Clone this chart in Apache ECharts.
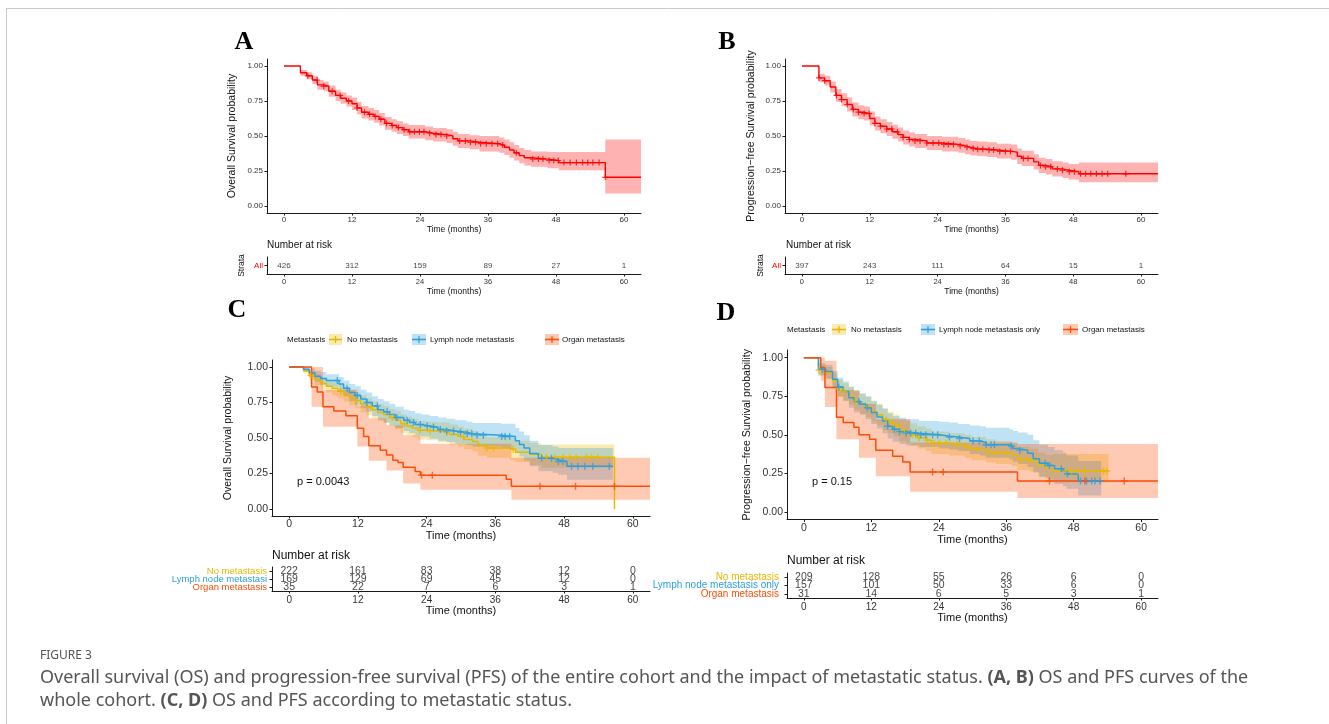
<!DOCTYPE html>
<html>
<head>
<meta charset="utf-8">
<title>Figure 3 – Kaplan–Meier curves</title>
<script src="https://cdn.jsdelivr.net/npm/echarts@6/dist/echarts.min.js"></script>
<style>
  html, body { margin: 0; padding: 0; background: #fff; }
  #chart { width: 1329px; height: 724px; }
</style>
</head>
<body>
<div id="chart"></div>
<script>
// ---------- shared ticks ----------
const X_TICKS = [0, 12, 24, 36, 48, 60];
const Y_TICKS = [0, 0.25, 0.5, 0.75, 1];
const RISK_TIMES = [0, 12, 24, 36, 48, 60];

// ---------- Panel A: overall survival, whole cohort ----------
const osAllTime = [0, 2.9, 4.0, 5.0, 5.9, 7.0, 7.9, 9.1, 10.0, 11.0, 12.0, 12.9, 13.7, 14.9, 15.9, 16.8, 17.8, 19.0, 19.9, 21.0, 22.0, 24.9, 26.3, 28.7, 29.8, 30.7, 32.8, 34.5, 38.0, 38.9, 39.8, 40.6, 41.5, 42.4, 43.6, 46.5, 48.5, 56.7, 63.0];
const osAllSurv = [1, 0.952, 0.93, 0.90, 0.865, 0.855, 0.82, 0.79, 0.77, 0.75, 0.73, 0.70, 0.67, 0.655, 0.64, 0.62, 0.59, 0.575, 0.56, 0.545, 0.53, 0.52, 0.51, 0.50, 0.48, 0.465, 0.455, 0.445, 0.435, 0.42, 0.40, 0.38, 0.36, 0.345, 0.335, 0.325, 0.31, 0.205, 0.205];
const osAllCensor = [4.2, 5.85, 7.0, 8.5, 9.9, 11.4, 12.9, 14.2, 15.1, 16.1, 17.1, 18.1, 19.1, 20.2, 21.2, 22.2, 23.0, 23.9, 24.7, 25.7, 26.8, 27.7, 28.7, 31.0, 32.0, 32.9, 33.8, 34.7, 35.7, 36.7, 37.7, 38.6, 41.0, 43.9, 44.9, 45.7, 46.8, 47.6, 48.4, 49.4, 50.5, 51.6, 52.7, 53.6, 54.5, 55.6, 56.7];
// 95% confidence limits, one pair per step of osAllTime
const osAllBandHi = [1, 0.972, 0.955, 0.93, 0.90, 0.89, 0.86, 0.83, 0.81, 0.79, 0.775, 0.745, 0.715, 0.70, 0.685, 0.665, 0.635, 0.62, 0.605, 0.59, 0.578, 0.568, 0.558, 0.548, 0.53, 0.515, 0.505, 0.50, 0.49, 0.475, 0.455, 0.435, 0.415, 0.40, 0.39, 0.385, 0.385, 0.475, 0.475];
const osAllBandLo = [1, 0.93, 0.905, 0.87, 0.83, 0.82, 0.78, 0.75, 0.73, 0.71, 0.685, 0.655, 0.625, 0.61, 0.595, 0.575, 0.545, 0.53, 0.515, 0.50, 0.482, 0.47, 0.46, 0.45, 0.43, 0.415, 0.405, 0.39, 0.38, 0.365, 0.345, 0.325, 0.305, 0.29, 0.28, 0.27, 0.255, 0.09, 0.09];
const osAllRisk = [426, 312, 159, 89, 27, 1];

// ---------- Panel B: progression-free survival, whole cohort ----------
const pfsAllTime = [0, 3.0, 4.0, 5.0, 6.0, 7.0, 8.0, 8.9, 10, 11, 12, 12.9, 13.9, 15, 16, 17, 17.9, 19, 20, 22.1, 24.8, 27.7, 28.9, 29.8, 31.1, 32.8, 34.5, 37, 38.1, 38.9, 41, 41.9, 43.1, 44.3, 46.1, 47.2, 49, 63.0];
const pfsAllSurv = [1, 0.915, 0.895, 0.85, 0.79, 0.76, 0.725, 0.69, 0.67, 0.66, 0.625, 0.59, 0.57, 0.55, 0.53, 0.51, 0.49, 0.475, 0.465, 0.45, 0.44, 0.43, 0.42, 0.41, 0.405, 0.40, 0.39, 0.385, 0.355, 0.34, 0.315, 0.29, 0.28, 0.265, 0.255, 0.245, 0.23, 0.23];
const pfsAllCensor = [3.0, 4.0, 6.1, 7.0, 8.0, 9.1, 10.0, 11.0, 11.9, 12.9, 13.9, 15.0, 15.9, 16.9, 17.9, 19.0, 20.0, 20.9, 22.1, 23.2, 24.2, 25.1, 25.9, 26.8, 28.0, 29.2, 30.3, 31.1, 32.0, 33.1, 33.9, 35.0, 36.0, 36.9, 39.2, 40.0, 42.2, 43.1, 44.0, 45.2, 46.1, 47.3, 48.2, 49.3, 50.2, 51.1, 52.1, 53.1, 54.1, 57.3];
const pfsAllBandHi = [1, 0.945, 0.93, 0.89, 0.835, 0.805, 0.775, 0.74, 0.72, 0.71, 0.675, 0.64, 0.62, 0.60, 0.58, 0.56, 0.54, 0.525, 0.515, 0.50, 0.495, 0.485, 0.475, 0.465, 0.46, 0.455, 0.445, 0.44, 0.41, 0.395, 0.37, 0.345, 0.335, 0.32, 0.31, 0.30, 0.31, 0.31];
const pfsAllBandLo = [1, 0.885, 0.86, 0.81, 0.745, 0.715, 0.675, 0.64, 0.62, 0.61, 0.575, 0.54, 0.52, 0.50, 0.48, 0.46, 0.44, 0.425, 0.415, 0.40, 0.39, 0.38, 0.37, 0.36, 0.355, 0.35, 0.34, 0.33, 0.30, 0.285, 0.26, 0.235, 0.225, 0.21, 0.20, 0.19, 0.17, 0.17];
const pfsAllRisk = [397, 243, 111, 64, 15, 1];

// ---------- Panel C: overall survival by metastatic status ----------
const osNoMetTime = [0, 2.5, 3.5, 4.5, 5.5, 6.5, 7.5, 8.5, 9.5, 10.5, 11.5, 12.5, 13.5, 14.5, 15.5, 16.5, 17.5, 18.5, 19.5, 20.5, 21.5, 22.5, 24, 26, 28, 29.5, 30.5, 32, 33, 34.5, 38.5, 39.5, 42, 44, 56.8];
const osNoMetSurv = [1, 0.975, 0.94, 0.91, 0.885, 0.865, 0.85, 0.83, 0.81, 0.785, 0.765, 0.74, 0.72, 0.70, 0.68, 0.665, 0.645, 0.625, 0.60, 0.585, 0.57, 0.555, 0.55, 0.54, 0.525, 0.51, 0.49, 0.475, 0.445, 0.43, 0.42, 0.40, 0.385, 0.365, 0];
const osNoMetCensor = [3.8, 9.0, 11.6, 14.2, 18.0, 20.1, 22.9, 24.6, 27.5, 30.4, 34.5, 35.7, 39.1, 44.9, 46.4, 47.8, 49.0, 50.1, 51.9, 52.8, 53.9];
const osNoMetBandHi = [1, 0.995, 0.97, 0.95, 0.925, 0.91, 0.895, 0.88, 0.86, 0.84, 0.82, 0.80, 0.78, 0.76, 0.74, 0.725, 0.705, 0.69, 0.665, 0.65, 0.635, 0.62, 0.615, 0.61, 0.595, 0.58, 0.565, 0.55, 0.52, 0.505, 0.50, 0.48, 0.465, 0.455, 0.455];
const osNoMetBandLo = [1, 0.955, 0.91, 0.87, 0.845, 0.82, 0.80, 0.78, 0.755, 0.73, 0.71, 0.68, 0.66, 0.64, 0.62, 0.605, 0.585, 0.56, 0.535, 0.52, 0.505, 0.49, 0.485, 0.47, 0.455, 0.44, 0.42, 0.405, 0.375, 0.36, 0.345, 0.33, 0.31, 0.29, 0.29];
const osNoMetRisk = [222, 161, 83, 38, 12, 0];

const osLnTime = [0, 2.5, 3.5, 4.5, 5.5, 6.5, 8.7, 9.5, 10.5, 11.5, 12.5, 13.5, 14.5, 15.5, 16.5, 17.5, 18.5, 20, 21, 22, 23, 24.5, 26, 27.5, 29, 31, 32, 37, 39.5, 40.2, 41, 42, 43.5, 46, 47, 48.5, 56.5];
const osLnSurv = [1, 0.985, 0.96, 0.935, 0.92, 0.905, 0.88, 0.85, 0.82, 0.80, 0.775, 0.75, 0.725, 0.70, 0.685, 0.665, 0.645, 0.625, 0.61, 0.595, 0.585, 0.575, 0.56, 0.55, 0.54, 0.53, 0.52, 0.51, 0.48, 0.455, 0.43, 0.39, 0.357, 0.346, 0.334, 0.30, 0.30];
const osLnCensor = [8.4, 10.1, 11.9, 13.6, 15.4, 17.1, 18.8, 20.6, 21.7, 22.9, 24.1, 25.2, 26.4, 27.5, 28.7, 29.9, 31.1, 31.9, 32.8, 33.9, 37.1, 37.7, 38.5, 44.1, 45.8, 47.0, 47.8, 49.3, 50.4, 51.6, 53.0, 55.9];
const osLnBandHi = [1, 1, 0.99, 0.975, 0.965, 0.95, 0.93, 0.905, 0.88, 0.865, 0.84, 0.82, 0.795, 0.775, 0.76, 0.74, 0.72, 0.70, 0.69, 0.675, 0.665, 0.655, 0.645, 0.635, 0.625, 0.615, 0.605, 0.60, 0.57, 0.545, 0.52, 0.48, 0.45, 0.44, 0.43, 0.43, 0.43];
const osLnBandLo = [1, 0.965, 0.93, 0.895, 0.875, 0.86, 0.83, 0.795, 0.76, 0.735, 0.71, 0.685, 0.655, 0.63, 0.61, 0.59, 0.57, 0.55, 0.535, 0.52, 0.51, 0.495, 0.48, 0.47, 0.46, 0.45, 0.44, 0.43, 0.40, 0.37, 0.34, 0.30, 0.265, 0.255, 0.24, 0.205, 0.205];
const osLnRisk = [169, 129, 69, 45, 12, 0];

const osOrganTime = [0, 3.9, 4.9, 5.9, 7.8, 9.9, 11.9, 13.0, 13.9, 15.9, 17.0, 18.1, 19.0, 19.9, 22.0, 22.9, 37.9, 38.8, 63];
const osOrganSurv = [1, 0.86, 0.825, 0.72, 0.69, 0.657, 0.568, 0.51, 0.446, 0.414, 0.38, 0.343, 0.327, 0.294, 0.264, 0.238, 0.21, 0.159, 0.159];
const osOrganCensor = [23.1, 25.0, 43.8, 50.0, 56.8];
const osOrganBandTime = [0, 3.9, 5.9, 11.9, 13.9, 17, 19.9, 22.9, 38.8, 63];
const osOrganBandHi = [1, 1, 0.84, 0.73, 0.64, 0.59, 0.52, 0.46, 0.36, 0.36];
const osOrganBandLo = [1, 0.72, 0.58, 0.44, 0.34, 0.27, 0.18, 0.135, 0.065, 0.065];
const osOrganRisk = [35, 22, 7, 6, 3, 1];

// ---------- Panel D: progression-free survival by metastatic status ----------
const pfsNoMetTime = [0, 2.6, 4.0, 5.1, 6.0, 7.0, 8.0, 8.9, 10.0, 11.0, 12.0, 13.0, 14.0, 15.0, 16.0, 17.0, 18.2, 19.0, 20.2, 21.7, 22.7, 25.9, 28.6, 29.8, 32.4, 34.2, 37.0, 38.0, 40.2, 41.7, 42.9, 44.3, 54.2];
const pfsNoMetSurv = [1, 0.92, 0.90, 0.85, 0.80, 0.78, 0.755, 0.72, 0.70, 0.68, 0.65, 0.63, 0.60, 0.58, 0.56, 0.53, 0.515, 0.50, 0.48, 0.465, 0.445, 0.435, 0.42, 0.405, 0.39, 0.38, 0.365, 0.34, 0.33, 0.30, 0.285, 0.265, 0.265];
const pfsNoMetCensor = [2.7, 6.2, 7.1, 9.2, 11.3, 14.6, 15.7, 16.7, 17.9, 19.3, 20.5, 22.0, 23.1, 24.1, 25.3, 27.2, 28.9, 30.7, 33.0, 34.2, 36.0, 38.7, 39.6, 40.5, 46.7, 47.6, 48.8, 50.0, 53.3, 53.9];
const pfsNoMetBandHi = [1, 0.955, 0.94, 0.90, 0.855, 0.835, 0.815, 0.78, 0.765, 0.745, 0.715, 0.70, 0.67, 0.65, 0.63, 0.60, 0.59, 0.575, 0.555, 0.54, 0.52, 0.51, 0.50, 0.485, 0.47, 0.46, 0.445, 0.42, 0.41, 0.385, 0.37, 0.375, 0.375];
const pfsNoMetBandLo = [1, 0.885, 0.86, 0.80, 0.745, 0.72, 0.695, 0.66, 0.635, 0.615, 0.585, 0.56, 0.53, 0.51, 0.49, 0.46, 0.445, 0.43, 0.41, 0.395, 0.375, 0.365, 0.35, 0.335, 0.32, 0.31, 0.295, 0.27, 0.26, 0.23, 0.215, 0.19, 0.19];
const pfsNoMetRisk = [209, 128, 55, 26, 6, 0];

const pfsLnTime = [0, 2.6, 3.9, 5.1, 6.0, 7.0, 8.0, 8.9, 10.0, 11.0, 12.0, 13.0, 14.0, 14.9, 15.8, 17.0, 18.2, 20.5, 24.1, 25.9, 27.4, 29.5, 31.3, 32.4, 36.6, 37.2, 38.1, 39.8, 40.8, 41.9, 43.4, 44.6, 46.1, 46.7, 48.8, 52.9];
const pfsLnSurv = [1, 0.925, 0.91, 0.86, 0.81, 0.78, 0.74, 0.715, 0.70, 0.675, 0.645, 0.615, 0.59, 0.555, 0.535, 0.52, 0.51, 0.50, 0.49, 0.485, 0.475, 0.46, 0.45, 0.435, 0.425, 0.41, 0.40, 0.38, 0.345, 0.315, 0.30, 0.28, 0.265, 0.245, 0.20, 0.20];
const pfsLnCensor = [3.3, 6.2, 9.8, 11.3, 14.9, 16.1, 17.0, 18.2, 19.0, 19.9, 20.8, 21.7, 22.9, 23.8, 25.9, 27.7, 30.1, 31.2, 32.4, 33.3, 33.9, 36.9, 38.4, 42.9, 43.7, 45.8, 46.9, 49.2, 50.3, 51.2, 51.8, 52.7];
const pfsLnBandHi = [1, 0.965, 0.955, 0.915, 0.87, 0.845, 0.81, 0.785, 0.77, 0.75, 0.72, 0.695, 0.67, 0.64, 0.62, 0.61, 0.60, 0.59, 0.585, 0.58, 0.57, 0.56, 0.555, 0.545, 0.535, 0.525, 0.515, 0.50, 0.465, 0.435, 0.42, 0.40, 0.385, 0.365, 0.33, 0.33];
const pfsLnBandLo = [1, 0.885, 0.865, 0.81, 0.75, 0.72, 0.675, 0.645, 0.63, 0.60, 0.57, 0.54, 0.51, 0.475, 0.455, 0.44, 0.43, 0.42, 0.41, 0.405, 0.395, 0.375, 0.365, 0.35, 0.34, 0.325, 0.31, 0.29, 0.255, 0.225, 0.205, 0.18, 0.165, 0.15, 0.105, 0.105];
const pfsLnRisk = [157, 101, 50, 33, 6, 0];

const pfsOrganTime = [0, 3.0, 3.75, 5.8, 7.0, 8.9, 9.8, 11.7, 12.8, 15.8, 17.6, 18.9, 38.0, 63];
const pfsOrganSurv = [1, 0.935, 0.806, 0.613, 0.58, 0.548, 0.50, 0.47, 0.40, 0.36, 0.323, 0.258, 0.20, 0.20];
const pfsOrganCensor = [22.9, 24.8, 43.7, 50.0, 57.0];
const pfsOrganBandTime = [0, 3.0, 3.75, 5.8, 9.8, 12.8, 18.9, 38.0, 63];
const pfsOrganBandHi = [1, 1, 0.98, 0.79, 0.70, 0.60, 0.45, 0.44, 0.44];
const pfsOrganBandLo = [1, 0.85, 0.68, 0.47, 0.35, 0.23, 0.13, 0.09, 0.09];
const pfsOrganRisk = [31, 14, 6, 5, 3, 1];

// ---------- styling ----------
const FONT = '"Liberation Sans", Arial, Helvetica, sans-serif';
const RED = '#FF0000';
const YELLOW = '#E7B800';
const BLUE = '#2E9FDF';
const ORANGE = '#FC4E07';
const PLUS = 'path://M-1,-5H1V-1H5V1H1V5H-1V1H-5V-1H-1Z';
const AXIS_COL = '#1a1a1a';

function rgba(hex, a) {
  const n = parseInt(hex.slice(1), 16);
  return 'rgba(' + (n >> 16 & 255) + ',' + (n >> 8 & 255) + ',' + (n & 255) + ',' + a + ')';
}

// survival estimate in force at time t (right-continuous step)
function stepAt(times, surv, t) {
  let v = surv[0];
  for (let i = 0; i < times.length; i++) { if (times[i] <= t) v = surv[i]; else break; }
  return v;
}

const option = {
  animation: false,
  backgroundColor: '#ffffff',
  grid: [], xAxis: [], yAxis: [], series: [], graphic: []
};

function timeAxis(gi, fs, margin, nameGap, nameFs) {
  return {
    type: 'value', gridIndex: gi, min: -3, max: 63,
    name: 'Time (months)', nameLocation: 'middle', nameGap: nameGap,
    nameTextStyle: { fontFamily: FONT, fontSize: nameFs, color: '#111' },
    axisLine: { show: true, onZero: false, lineStyle: { color: AXIS_COL, width: 1 } },
    axisTick: { show: true, length: 2.5, customValues: X_TICKS, lineStyle: { color: AXIS_COL, width: 1 } },
    axisLabel: { customValues: X_TICKS, fontFamily: FONT, fontSize: fs, color: '#333', margin: margin },
    splitLine: { show: false }
  };
}

function probAxis(gi, name, fs, margin, nameGap, nameFs) {
  return {
    type: 'value', gridIndex: gi, min: -0.05, max: 1.05,
    name: name, nameLocation: 'middle', nameGap: nameGap, nameRotate: 90,
    nameTextStyle: { fontFamily: FONT, fontSize: nameFs, color: '#111' },
    axisLine: { show: true, onZero: false, lineStyle: { color: AXIS_COL, width: 1 } },
    axisTick: { show: true, length: 2.5, customValues: Y_TICKS, lineStyle: { color: AXIS_COL, width: 1 } },
    axisLabel: { customValues: Y_TICKS, formatter: v => Number(v).toFixed(2), fontFamily: FONT, fontSize: fs, color: '#333', margin: margin },
    splitLine: { show: false }
  };
}

function addGrid(left, top, width, height) {
  option.grid.push({ left: left, top: top, width: width, height: height });
  return option.grid.length - 1;
}

// confidence band: one closed stepped polygon built from the limits
function bandSeries(gi, grp, alpha) {
  return {
    type: 'custom', xAxisIndex: gi, yAxisIndex: gi, silent: true, clip: true, z: 1,
    data: grp.bandTime.map((t, i) => [t, grp.lo[i], grp.hi[i]]),
    renderItem: function (params, api) {
      if (params.dataIndex !== 0) return null;
      const top = [], bot = [];
      for (let i = 0; i < grp.bandTime.length - 1; i++) {
        const t0 = grp.bandTime[i], t1 = grp.bandTime[i + 1];
        top.push(api.coord([t0, grp.hi[i]]), api.coord([t1, grp.hi[i]]));
        bot.push(api.coord([t0, grp.lo[i]]), api.coord([t1, grp.lo[i]]));
      }
      return { type: 'polygon', shape: { points: top.concat(bot.reverse()) }, style: { fill: rgba(grp.color, alpha) } };
    }
  };
}

function curveSeries(gi, grp, width) {
  return {
    type: 'line', xAxisIndex: gi, yAxisIndex: gi, step: 'end', silent: true, z: 3,
    showSymbol: false, symbol: 'none',
    lineStyle: { color: grp.color, width: width },
    data: grp.time.map((t, i) => [t, grp.surv[i]])
  };
}

function censorSeries(gi, grp, size) {
  return {
    type: 'scatter', xAxisIndex: gi, yAxisIndex: gi, silent: true, z: 4,
    symbol: PLUS, symbolSize: size, itemStyle: { color: grp.color },
    data: grp.censor.map(t => [t, stepAt(grp.time, grp.surv, t)])
  };
}

function riskTable(gi, groups, labels, opts) {
  option.xAxis.push(timeAxis(gi, opts.tickFs, opts.tickMargin, opts.nameGap, opts.nameFs));
  option.yAxis.push({
    type: 'category', gridIndex: gi, inverse: true,
    data: labels.map((s, i) => ({ value: s, textStyle: { color: groups[i].color } })),
    name: opts.yName || '', nameLocation: 'middle', nameRotate: 90, nameGap: opts.yNameGap || 0,
    nameTextStyle: { fontFamily: FONT, fontSize: opts.yNameFs || 9, color: '#111' },
    axisLine: { show: true, onZero: false, lineStyle: { color: AXIS_COL, width: 1 } },
    axisTick: { show: true, alignWithLabel: true, interval: 0, length: 2.5, lineStyle: { color: AXIS_COL } },
    axisLabel: { interval: 0, fontFamily: FONT, fontSize: opts.labelFs, margin: opts.labelMargin },
    splitLine: { show: false }
  });
  const data = [];
  groups.forEach((g, j) => RISK_TIMES.forEach((t, k) => data.push([t, j, g.risk[k]])));
  option.series.push({
    type: 'scatter', xAxisIndex: gi, yAxisIndex: gi, silent: true, symbolSize: 1,
    itemStyle: { color: 'transparent' },
    label: { show: true, position: 'inside', formatter: p => String(p.value[2]), fontFamily: FONT, fontSize: opts.numFs, color: '#111' },
    data: data
  });
}

function kmPanel(gi, groups, yName, o) {
  option.xAxis.push(timeAxis(gi, o.tickFs, o.xMargin, o.xNameGap, o.xNameFs));
  option.yAxis.push(probAxis(gi, yName, o.tickFs, o.yMargin, o.yNameGap, o.yNameFs));
  groups.forEach(g => option.series.push(bandSeries(gi, g, 0.3)));
  groups.forEach(g => option.series.push(curveSeries(gi, g, o.lineW)));
  groups.forEach(g => option.series.push(censorSeries(gi, g, o.plusSize)));
}

// ---------- strata ----------
const grpA = { color: RED, time: osAllTime, surv: osAllSurv, censor: osAllCensor, bandTime: osAllTime, lo: osAllBandLo, hi: osAllBandHi, risk: osAllRisk };
const grpB = { color: RED, time: pfsAllTime, surv: pfsAllSurv, censor: pfsAllCensor, bandTime: pfsAllTime, lo: pfsAllBandLo, hi: pfsAllBandHi, risk: pfsAllRisk };
const grpsC = [
  { color: YELLOW, time: osNoMetTime, surv: osNoMetSurv, censor: osNoMetCensor, bandTime: osNoMetTime, lo: osNoMetBandLo, hi: osNoMetBandHi, risk: osNoMetRisk },
  { color: BLUE, time: osLnTime, surv: osLnSurv, censor: osLnCensor, bandTime: osLnTime, lo: osLnBandLo, hi: osLnBandHi, risk: osLnRisk },
  { color: ORANGE, time: osOrganTime, surv: osOrganSurv, censor: osOrganCensor, bandTime: osOrganBandTime, lo: osOrganBandLo, hi: osOrganBandHi, risk: osOrganRisk }
];
const grpsD = [
  { color: YELLOW, time: pfsNoMetTime, surv: pfsNoMetSurv, censor: pfsNoMetCensor, bandTime: pfsNoMetTime, lo: pfsNoMetBandLo, hi: pfsNoMetBandHi, risk: pfsNoMetRisk },
  { color: BLUE, time: pfsLnTime, surv: pfsLnSurv, censor: pfsLnCensor, bandTime: pfsLnTime, lo: pfsLnBandLo, hi: pfsLnBandHi, risk: pfsLnRisk },
  { color: ORANGE, time: pfsOrganTime, surv: pfsOrganSurv, censor: pfsOrganCensor, bandTime: pfsOrganBandTime, lo: pfsOrganBandLo, hi: pfsOrganBandHi, risk: pfsOrganRisk }
];

const smallPanel = { tickFs: 8, xMargin: 3, yMargin: 4, xNameGap: 9, xNameFs: 8.5, yNameGap: 29, yNameFs: 10.5, lineW: 1.4, plusSize: 6 };
const bigPanel = { tickFs: 10.5, xMargin: 3, yMargin: 4, xNameGap: 13, xNameFs: 11, yNameGap: 38, yNameFs: 10.5, lineW: 1.5, plusSize: 7 };

// A
let g = addGrid(267, 59, 374, 154);
kmPanel(g, [grpA], 'Overall Survival probability', smallPanel);
g = addGrid(267, 257, 374, 17);
riskTable(g, [grpA], ['All'], { tickFs: 7.5, tickMargin: 4, nameGap: 12, nameFs: 8.5, labelFs: 8, labelMargin: 4, numFs: 8, yName: 'Strata', yNameGap: 21, yNameFs: 8.5 });

// B
g = addGrid(785, 59, 373, 154);
kmPanel(g, [grpB], 'Progression\u2212free Survival probability', Object.assign({}, smallPanel, { yNameGap: 28 }));
g = addGrid(785, 257, 373, 17);
riskTable(g, [grpB], ['All'], { tickFs: 7.5, tickMargin: 4, nameGap: 12, nameFs: 8.5, labelFs: 8, labelMargin: 4, numFs: 8, yName: 'Strata', yNameGap: 20, yNameFs: 8.5 });

// C
g = addGrid(272, 360, 378, 156);
kmPanel(g, grpsC, 'Overall Survival probability', bigPanel);
g = addGrid(272, 567, 378, 24);
riskTable(g, grpsC, ['No metastasis', 'Lymph node metastasi', 'Organ metastasis'], { tickFs: 10, tickMargin: 4, nameGap: 14, nameFs: 11, labelFs: 9.5, labelMargin: 5, numFs: 10.5 });

// D
g = addGrid(787, 350, 371, 169.5);
kmPanel(g, grpsD, 'Progression\u2212free Survival probability', Object.assign({}, bigPanel, { yNameGap: 34 }));
g = addGrid(787, 573, 371, 25);
riskTable(g, grpsD, ['No metastasis', 'Lymph node metastasis only', 'Organ metastasis'], { tickFs: 10, tickMargin: 4, nameGap: 14, nameFs: 11, labelFs: 10, labelMargin: 8, numFs: 10.5 });

// ---------- text, legends, frame ----------
function txt(x, y, s, style) {
  option.graphic.push({ type: 'text', x: x, y: y, silent: true, style: Object.assign({ text: s, fontFamily: FONT, fill: '#111', verticalAlign: 'middle' }, style) });
}
function letter(x, y, s) {
  txt(x, y, s, { fontFamily: '"Liberation Serif", "Times New Roman", serif', fontWeight: 'bold', fontSize: 26, align: 'center', fill: '#000' });
}
letter(244, 42, 'A');
letter(727, 42, 'B');
letter(237, 310, 'C');
letter(726, 313, 'D');

txt(267, 245, 'Number at risk', { fontSize: 10 });
txt(786, 245, 'Number at risk', { fontSize: 10 });
txt(272, 556, 'Number at risk', { fontSize: 12 });
txt(787, 561, 'Number at risk', { fontSize: 12 });

txt(297, 482, 'p = 0.0043', { fontSize: 11 });
txt(812, 482, 'p = 0.15', { fontSize: 11 });

// legend key: shaded box, line across, censor cross
function legendKey(x, y, w, h, color) {
  const cx = x + w / 2, cy = y + h / 2;
  option.graphic.push({ type: 'rect', silent: true, shape: { x: x, y: y, width: w, height: h }, style: { fill: rgba(color, 0.3) } });
  option.graphic.push({ type: 'line', silent: true, shape: { x1: x, y1: cy, x2: x + w, y2: cy }, style: { stroke: color, lineWidth: 1.5 } });
  option.graphic.push({ type: 'rect', silent: true, shape: { x: cx - 0.6, y: cy - 3.5, width: 1.2, height: 7 }, style: { fill: color } });
  option.graphic.push({ type: 'rect', silent: true, shape: { x: cx - 3.5, y: cy - 0.6, width: 7, height: 1.2 }, style: { fill: color } });
}
const legFs = 8;
txt(287, 339.5, 'Metastasis', { fontSize: legFs });
legendKey(329, 334, 13, 11, YELLOW); txt(347, 339.5, 'No metastasis', { fontSize: legFs });
legendKey(412, 334, 14, 11, BLUE); txt(430, 339.5, 'Lymph node metastasis', { fontSize: legFs });
legendKey(545, 334, 14, 11, ORANGE); txt(562, 339.5, 'Organ metastasis', { fontSize: legFs });

txt(787, 329.5, 'Metastasis', { fontSize: legFs });
legendKey(832, 324, 14, 11, YELLOW); txt(851, 329.5, 'No metastasis', { fontSize: legFs });
legendKey(921, 324, 14, 11, BLUE); txt(939, 329.5, 'Lymph node metastasis only', { fontSize: legFs });
legendKey(1063, 324, 15, 11, ORANGE); txt(1082, 329.5, 'Organ metastasis', { fontSize: legFs });

// figure frame
option.graphic.push({ type: 'line', silent: true, shape: { x1: 6, y1: 8.5, x2: 1329, y2: 8.5 }, style: { stroke: '#c9c9c9', lineWidth: 1 } });
option.graphic.push({ type: 'line', silent: true, shape: { x1: 6.5, y1: 8, x2: 6.5, y2: 724 }, style: { stroke: '#c9c9c9', lineWidth: 1 } });

// caption
const CAP_FONT = '"Noto Sans", "Open Sans", sans-serif';
txt(40, 656, 'FIGURE 3', { fontFamily: CAP_FONT, fontSize: 12, fill: '#555' });
option.graphic.push({
  type: 'text', x: 40, y: 678, silent: true,
  style: {
    text: 'Overall survival (OS) and progression-free survival (PFS) of the entire cohort and the impact of metastatic status. {b|(A, B)} OS and PFS curves of the',
    fontFamily: CAP_FONT, fontSize: 18, fill: '#555', verticalAlign: 'middle',
    rich: { b: { fontFamily: CAP_FONT, fontSize: 18, fontWeight: 'bold', fill: '#555' } }
  }
});
option.graphic.push({
  type: 'text', x: 40, y: 701, silent: true,
  style: {
    text: 'whole cohort. {b|(C, D)} OS and PFS according to metastatic status.',
    fontFamily: CAP_FONT, fontSize: 18, fill: '#555', verticalAlign: 'middle',
    rich: { b: { fontFamily: CAP_FONT, fontSize: 18, fontWeight: 'bold', fill: '#555' } }
  }
});

const chart = echarts.init(document.getElementById('chart'), null, { renderer: 'canvas' });
chart.setOption(option);
</script>
</body>
</html>
